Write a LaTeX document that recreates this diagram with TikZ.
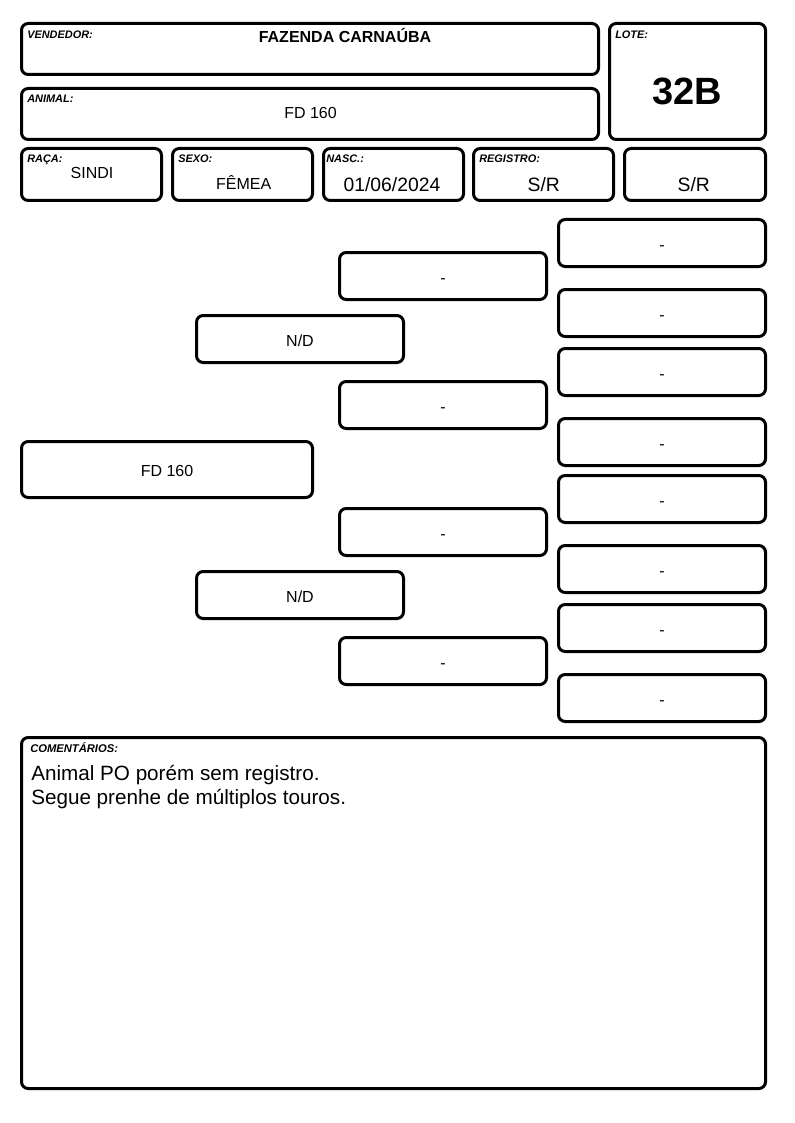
\documentclass[tikz,border=0pt]{standalone}
\usepackage{fontspec}
\setmainfont{Liberation Sans}
\newcommand\pbox[6]{\node[box, minimum width={(#4-#2-3)*0.75pt}, minimum height={(#5-#3-3)*0.75pt}] (#1) at ({(#2+#4)/2},{(#3+#5)/2}) {#6};}
\tikzset{
  box/.style={draw=black, line width=2.25pt, rounded corners=5pt, inner sep=0pt, fill=white, text height=10.5pt, text depth=0pt, font=\fontsize{12}{14}\selectfont},
  lbl/.style={anchor=base west, inner sep=0pt, font=\fontsize{8.2}{10}\selectfont\bfseries\itshape},
  val/.style={anchor=base, inner sep=0pt, font=\fontsize{12}{14}\selectfont},
}
\begin{document}
\begin{tikzpicture}[x=0.75pt, y=-0.75pt]
\useasboundingbox (0,0) rectangle (794,1123);
% header boxes
\pbox{vend}{20}{22}{600}{76}{}
\pbox{anim}{20}{87}{600}{141}{}
\pbox{lote}{608}{22}{767}{141}{}
\pbox{raca}{20}{147}{163}{202}{}
\pbox{sexo}{171}{147}{314}{202}{}
\pbox{nasc}{322}{147}{465}{202}{}
\pbox{reg}{472}{147}{615}{202}{}
\pbox{reg2}{623}{147}{767}{202}{}
\node[lbl] (vendl) at (27,39) {VENDEDOR:};
\node[val, font=\fontsize{12}{14}\selectfont\bfseries] (vendv) at (345,43) {FAZENDA CARNAÚBA};
\node[lbl] (animl) at (27,103) {ANIMAL:};
\node[val] (animv) at (310.5,119) {FD 160};
\node[lbl] (lotel) at (615,39) {LOTE:};
\node[val, font=\fontsize{28.5}{32}\selectfont\bfseries] (lotev) at (687.5,105) {32B};
\node[lbl] (racal) at (27,162.5) {RAÇA:};
\node[val] (racav) at (92,178.5) {SINDI};
\node[lbl] (sexol) at (178,162.5) {SEXO:};
\node[val] (sexov) at (243.7,189.5) {FÊMEA};
\node[lbl] (nascl) at (326,162.5) {NASC.:};
\node[val, font=\fontsize{14.5}{16}\selectfont] (nascv) at (392,192) {01/06/2024};
\node[lbl] (regl) at (479,162.5) {REGISTRO:};
\node[val, font=\fontsize{14.5}{16}\selectfont] (regv) at (543.8,192) {S/R};
\node[val, font=\fontsize{14.5}{16}\selectfont] (reg2v) at (693.8,192) {S/R};
% pedigree
\pbox{p1}{20}{440}{314}{499}{FD 160}
\pbox{p2a}{195}{314}{405}{364}{N/D}
\pbox{p2b}{195}{570}{405}{620}{N/D}
\pbox{p3a}{338}{251}{548}{301}{-}
\pbox{p3b}{338}{380}{548}{430}{-}
\pbox{p3c}{338}{507}{548}{557}{-}
\pbox{p3d}{338}{636}{548}{686}{-}
\pbox{p4a}{557}{218}{767}{268}{-}
\pbox{p4b}{557}{288}{767}{338}{-}
\pbox{p4c}{557}{347}{767}{397}{-}
\pbox{p4d}{557}{417}{767}{467}{-}
\pbox{p4e}{557}{474}{767}{524}{-}
\pbox{p4f}{557}{544}{767}{594}{-}
\pbox{p4g}{557}{603}{767}{653}{-}
\pbox{p4h}{557}{673}{767}{723}{-}
% comments
\pbox{com}{20}{736}{767}{1090}{}
\node[lbl, font=\fontsize{8.4}{10}\selectfont\bfseries\itshape] (coml) at (30,752.5) {COMENTÁRIOS:};
\node[anchor=base west, inner sep=0pt, font=\fontsize{15.5}{18}\selectfont] (comt1) at (31,780) {Animal PO porém sem registro.};
\node[anchor=base west, inner sep=0pt, font=\fontsize{15.5}{18}\selectfont] (comt2) at (31,804) {Segue prenhe de múltiplos touros.};
\end{tikzpicture}
\end{document}
